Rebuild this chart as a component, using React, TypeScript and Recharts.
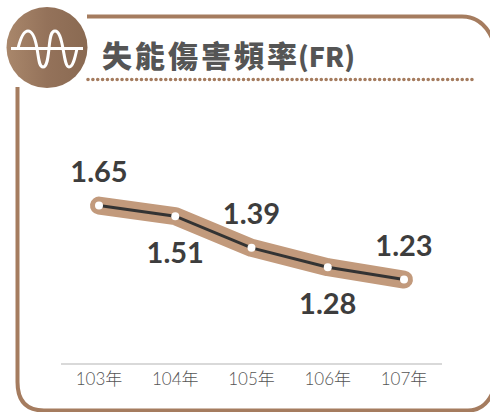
import React from 'react';
import { LineChart, Line, XAxis, YAxis, LabelList } from 'recharts';

const categories = ['103年', '104年', '105年', '106年', '107年'];
// Printed values of the labels.
const printedValues = [1.65, 1.51, 1.39, 1.28, 1.23];
// Heights as the source graphic draws them (not strictly proportional to the printed values).
const drawnHeights = [1.65, 1.59, 1.41, 1.3, 1.23];
const labelSides = ['top', 'bottom', 'top', 'bottom', 'top'];
const titleMain = '失能傷害頻率';
const titleTail = '(FR)';

const data = categories.map((year, i) => ({
  year,
  height: drawnHeights[i],
  printed: printedValues[i].toFixed(2),
}));

const BROWN = '#a57c5f';

const ValueLabel = (props: any) => {
  const { x, y, value, index } = props;
  const above = labelSides[index] === 'top';
  return (
    <text
      x={x}
      y={above ? y - 24 : y + 47}
      textAnchor="middle"
      fontFamily="Lato, 'Noto Sans', sans-serif"
      fontWeight={700}
      fontSize={29}
      fill="#3d3d3d"
    >
      {value}
    </text>
  );
};

const Dot = (props: any) => {
  const { cx, cy } = props;
  return <circle cx={cx} cy={cy} r={4} fill="#ffffff" />;
};

function Frame() {
  return (
    <svg width={490} height={412} style={{ position: 'absolute', left: 0, top: 0 }}>
      <defs>
        <linearGradient id="badge" x1="0" x2="1" y1="0" y2="0">
          <stop offset="0" stopColor="#a9876b" />
          <stop offset="0.5" stopColor="#94725a" />
          <stop offset="1" stopColor="#8a6a52" />
        </linearGradient>
      </defs>
      <path
        d="M87 16.5 H462 Q482 16.5 492 38"
        fill="none"
        stroke={BROWN}
        strokeWidth={4}
      />
      <path
        d="M17.5 87 V382 Q17.5 410.5 44 410.5 H468 Q484 410.5 492 394"
        fill="none"
        stroke={BROWN}
        strokeWidth={4}
      />
      <circle cx={47} cy={47.5} r={40.5} fill="url(#badge)" />
      <path d="M11 48.5 H83" stroke="#fff" strokeWidth={3} fill="none" />
      <path
        d="M18 48.5 C21 36 24 31 28 31 C32 31 35 37 37 48.5 C39 60 39 67 43 67 C47 67 48 58 49 48.5 C50 37 51 31 55 31 C59 31 61 38 63 48.5 C65 60 66 67 69 67 C73 67 75 58 77 48.5"
        stroke="#fff"
        strokeWidth={3}
        fill="none"
      />
      <text
        x={102}
        y={67}
        fontFamily="'Noto Sans CJK TC', sans-serif"
        fontWeight={900}
        fontSize={30}
        fill="#555555"
      >
        <tspan letterSpacing={3}>{titleMain}</tspan>
        <tspan letterSpacing={0} fontSize={27} dx={-2}>{titleTail}</tspan>
      </text>
      <line
        x1={88}
        x2={476}
        y1={79.5}
        y2={79.5}
        stroke={BROWN}
        strokeWidth={3.6}
        strokeLinecap="round"
        strokeDasharray="0.01 4.85"
      />
    </svg>
  );
}

export default function App() {
  return (
    <div style={{ position: 'absolute', left: 0, top: 0, width: 490, height: 412, background: '#fff' }}>
      <Frame />
      <div style={{ position: 'absolute', left: 0, top: 0 }}>
        <LineChart
          width={490}
          height={412}
          data={data}
          margin={{ top: 100, right: 48, bottom: 0, left: 61 }}
        >
          <XAxis
            dataKey="year"
            axisLine={{ stroke: '#cccccc', strokeWidth: 1.5 }}
            tickLine={false}
            tickMargin={3}
            height={48}
            interval={0}
            padding={{ left: 38, right: 38 }}
            tick={{ fontFamily: "Lato, 'Noto Sans CJK TC', sans-serif", fontSize: 17, fontWeight: 300, fill: '#555555' }}
          />
          <YAxis hide domain={[0.75, 2.25]} width={0} />
          <Line
            dataKey="height"
            stroke="#c29a7c"
            strokeWidth={18}
            strokeLinecap="round"
            strokeLinejoin="round"
            dot={false}
            activeDot={false}
            isAnimationActive={false}
            type="linear"
          />
          <Line
            dataKey="height"
            stroke="#333333"
            strokeWidth={3}
            dot={<Dot />}
            activeDot={false}
            isAnimationActive={false}
            type="linear"
          >
            <LabelList dataKey="printed" content={<ValueLabel />} />
          </Line>
        </LineChart>
      </div>
    </div>
  );
}
